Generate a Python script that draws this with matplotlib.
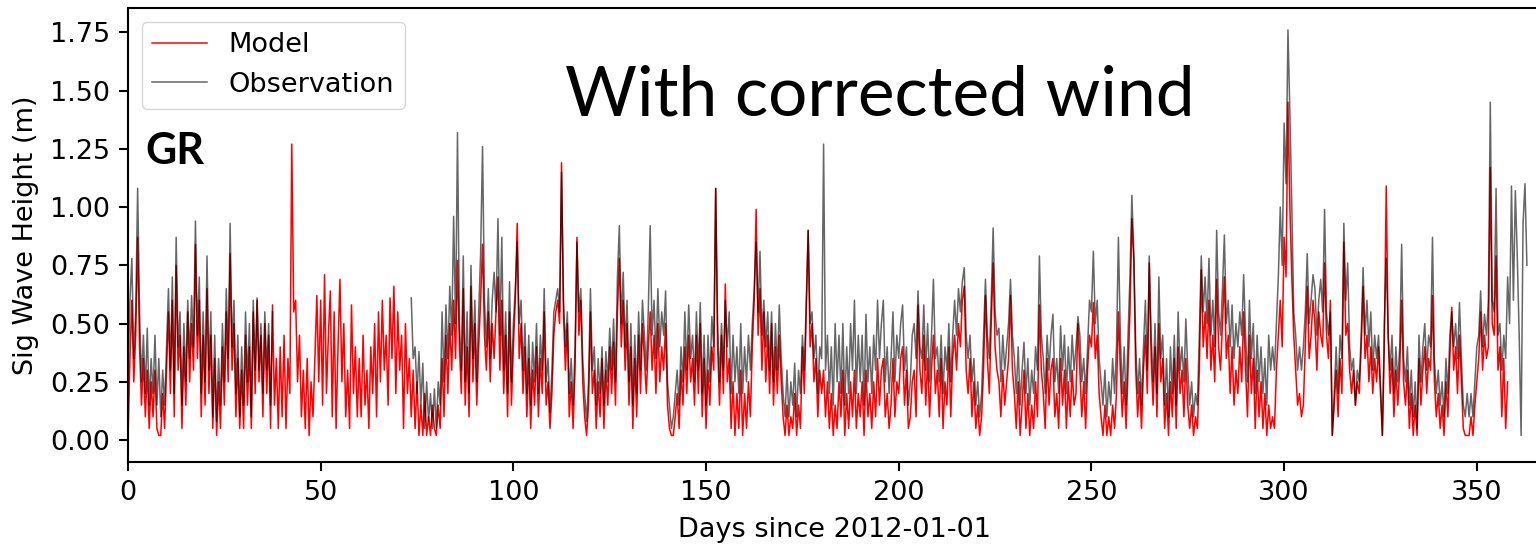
import numpy as np
import matplotlib.pyplot as plt

NA = np.nan

# significant wave height (m), one value every half day from 2012-01-01
model_hs = [
    0.00, 0.35, 0.60, 0.25, 0.45, 0.87, 0.40, 0.15, 0.35, 0.10, 0.30, 0.05, 0.25, 0.10, 0.30, 0.05, 0.02, 0.02, 0.20, 0.05,
    0.30, 0.55, 0.20, 0.60, 0.10, 0.75, 0.30, 0.45, 0.05, 0.40, 0.15, 0.55, 0.25, 0.50, 0.30, 0.84, 0.35, 0.60, 0.10, 0.45,
    0.15, 0.65, 0.20, 0.45, 0.05, 0.35, 0.02, 0.25, 0.05, 0.40, 0.15, 0.55, 0.25, 0.80, 0.30, 0.50, 0.10, 0.35, 0.05, 0.30,
    0.05, 0.45, 0.15, 0.40, 0.05, 0.55, 0.20, 0.60, 0.25, 0.45, 0.10, 0.50, 0.20, 0.45, 0.05, 0.58, 0.15, 0.35, 0.05, 0.40,
    0.10, 0.45, 0.05, 0.35, 0.20, 1.27, 0.55, 0.60, 0.25, 0.45, 0.10, 0.30, 0.05, 0.35, 0.02, 0.25, 0.10, 0.35, 0.62, 0.25,
    0.60, 0.15, 0.71, 0.20, 0.45, 0.64, 0.10, 0.55, 0.05, 0.40, 0.69, 0.25, 0.50, 0.10, 0.30, 0.05, 0.58, 0.20, 0.40, 0.10,
    0.35, 0.10, 0.45, 0.15, 0.30, 0.05, 0.40, 0.20, 0.50, 0.10, 0.55, 0.25, 0.60, 0.30, 0.45, 0.15, 0.61, 0.35, 0.66, 0.20,
    0.55, 0.30, 0.45, 0.05, 0.50, 0.20, 0.35, 0.10, 0.30, 0.05, 0.25, 0.02, 0.15, 0.02, 0.20, 0.02, 0.10, 0.02, 0.15, 0.05,
    0.02, 0.15, 0.05, 0.35, 0.10, 0.45, 0.20, 0.50, 0.30, 0.60, 0.35, 0.77, 0.40, 0.20, 0.65, 0.15, 0.40, 0.10, 0.66, 0.25,
    0.50, 0.15, 0.40, 0.60, 0.84, 0.45, 0.30, 0.55, 0.25, 0.50, 0.35, 0.55, 0.70, 0.30, 0.60, 0.20, 0.45, 0.10, 0.55, 0.15,
    0.40, 0.60, 0.93, 0.35, 0.50, 0.20, 0.40, 0.10, 0.35, 0.05, 0.30, 0.15, 0.40, 0.10, 0.35, 0.20, 0.55, 0.15, 0.25, 0.05,
    0.20, 0.45, 0.55, 0.60, 0.50, 1.19, 0.55, 0.30, 0.50, 0.10, 0.25, 0.05, 0.30, 0.87, 0.45, 0.60, 0.25, 0.10, 0.02, 0.15,
    0.55, 0.20, 0.30, 0.05, 0.25, 0.10, 0.35, 0.05, 0.30, 0.15, 0.40, 0.20, 0.42, 0.15, 0.55, 0.78, 0.40, 0.60, 0.30, 0.50,
    0.15, 0.40, 0.05, 0.35, 0.10, 0.45, 0.20, 0.50, 0.35, 0.20, 0.40, 0.55, 0.30, 0.45, 0.20, 0.50, 0.25, 0.40, 0.30, 0.50,
    0.15, 0.05, 0.02, 0.02, 0.10, 0.20, 0.05, 0.30, 0.15, 0.40, 0.20, 0.45, 0.25, 0.35, 0.15, 0.45, 0.20, 0.50, 0.10, 0.35,
    0.05, 0.30, 0.15, 0.40, 0.30, 1.08, 0.40, 0.15, 0.45, 0.20, 0.67, 0.25, 0.35, 0.05, 0.25, 0.02, 0.20, 0.05, 0.30, 0.02,
    0.20, 0.05, 0.25, 0.10, 0.40, 0.60, 0.99, 0.45, 0.65, 0.30, 0.55, 0.25, 0.45, 0.20, 0.50, 0.15, 0.40, 0.20, 0.45, 0.25,
    0.10, 0.02, 0.15, 0.02, 0.10, 0.05, 0.20, 0.02, 0.15, 0.05, 0.40, 0.20, 0.55, 0.90, 0.40, 0.50, 0.25, 0.35, 0.10, 0.30,
    0.20, 0.30, 0.10, 0.25, 0.05, 0.20, 0.02, 0.15, 0.05, 0.25, 0.10, 0.30, 0.02, 0.20, 0.05, 0.25, 0.10, 0.30, 0.05, 0.20,
    0.10, 0.25, 0.02, 0.30, 0.10, 0.20, 0.05, 0.25, 0.10, 0.35, 0.15, 0.30, 0.35, 0.10, 0.20, 0.05, 0.15, 0.35, 0.10, 0.25,
    0.20, 0.35, 0.40, 0.15, 0.30, 0.05, 0.10, 0.25, 0.30, 0.10, 0.58, 0.30, 0.20, 0.45, 0.15, 0.35, 0.10, 0.30, 0.45, 0.20,
    0.30, 0.10, 0.35, 0.05, 0.25, 0.15, 0.40, 0.10, 0.35, 0.45, 0.30, 0.50, 0.40, 0.60, 0.66, 0.30, 0.20, 0.35, 0.10, 0.25,
    0.05, 0.15, 0.02, 0.10, 0.30, 0.62, 0.35, 0.20, 0.50, 0.76, 0.40, 0.30, 0.25, 0.10, 0.30, 0.15, 0.25, 0.35, 0.62, 0.30,
    0.20, 0.05, 0.25, 0.02, 0.15, 0.30, 0.05, 0.20, 0.02, 0.15, 0.05, 0.25, 0.10, 0.58, 0.30, 0.20, 0.05, 0.35, 0.15, 0.30,
    0.35, 0.10, 0.20, 0.05, 0.35, 0.15, 0.30, 0.05, 0.25, 0.10, 0.30, 0.15, 0.20, 0.50, 0.30, 0.10, 0.25, 0.05, 0.30, 0.45,
    0.40, 0.59, 0.35, 0.45, 0.20, 0.10, 0.02, 0.15, 0.02, 0.10, 0.02, 0.15, 0.05, 0.20, 0.55, 0.30, 0.10, 0.25, 0.05, 0.30,
    0.55, 0.95, 0.77, 0.30, 0.10, 0.25, 0.05, 0.30, 0.45, 0.20, 0.76, 0.35, 0.15, 0.40, 0.10, 0.50, 0.25, 0.35, 0.05, 0.20,
    0.02, 0.25, 0.10, 0.35, 0.05, 0.40, 0.20, 0.30, 0.10, 0.35, 0.15, 0.05, 0.15, 0.02, 0.10, 0.05, 0.30, 0.73, 0.40, 0.55,
    0.35, 0.60, 0.30, 0.45, 0.25, 0.69, 0.40, 0.30, 0.50, 0.70, 0.35, 0.45, 0.20, 0.40, 0.15, 0.30, 0.20, 0.40, 0.25, 0.55,
    0.30, 0.10, 0.45, 0.20, 0.35, 0.05, 0.30, 0.10, 0.25, 0.05, 0.20, 0.02, 0.15, 0.05, 0.10, 0.05, 0.30, 0.45, 0.60, 0.40,
    0.87, 0.70, 1.45, 1.00, 0.70, 0.45, 0.30, 0.15, 0.20, 0.10, 0.15, 0.40, 0.66, 0.35, 0.45, 0.60, 0.50, 0.30, 0.55, 0.45,
    0.40, 0.76, 0.45, 0.35, 0.60, 0.02, 0.15, 0.30, 0.10, 0.35, 0.20, 0.85, 0.45, 0.50, 0.30, 0.20, 0.30, 0.15, 0.25, 0.20,
    0.40, 0.66, 0.35, 0.45, 0.25, 0.40, 0.20, 0.35, 0.25, 0.40, 0.20, 0.02, 0.40, 1.09, 0.45, 0.20, 0.35, 0.10, 0.30, 0.15,
    0.30, 0.60, 0.25, 0.15, 0.30, 0.05, 0.20, 0.02, 0.15, 0.02, 0.35, 0.15, 0.30, 0.40, 0.20, 0.35, 0.30, 0.62, 0.25, 0.10,
    0.20, 0.05, 0.15, 0.02, 0.25, 0.10, 0.35, 0.57, 0.30, 0.40, 0.20, 0.45, 0.25, 0.05, 0.02, 0.02, 0.02, 0.10, 0.02, 0.15,
    0.25, 0.35, 0.55, 0.30, 0.45, 0.35, 0.40, 1.17, 0.50, 0.45, 0.79, 0.30, 0.40, 0.10, 0.35, 0.05, 0.25,
]

obs_hs = [
    0.30, 0.60, 0.78, 0.35, 0.55, 1.08, 0.55, 0.25, 0.45, 0.20, 0.48, 0.15, 0.35, 0.20, 0.45, 0.15, 0.35, 0.10, 0.30, 0.15,
    0.40, 0.65, 0.30, 0.70, 0.20, 0.87, 0.40, 0.55, 0.15, 0.50, 0.25, 0.60, 0.35, 0.62, 0.40, 0.94, 0.45, 0.70, 0.20, 0.55,
    0.25, 0.79, 0.30, 0.55, 0.10, 0.45, 0.08, 0.35, 0.15, 0.50, 0.25, 0.65, 0.35, 0.93, 0.40, 0.60, 0.20, 0.45, 0.10, 0.40,
    0.15, 0.55, 0.25, 0.50, 0.10, 0.60, 0.30, 0.61, 0.30, 0.50, 0.20, 0.55, 0.30, 0.50, 0.15, 0.55, NA, NA, NA, NA,
    NA, NA, NA, NA, NA, NA, NA, NA, NA, NA, NA, NA, NA, NA, NA, NA, NA, NA, NA, NA,
    NA, NA, NA, NA, NA, NA, NA, NA, NA, NA, NA, NA, NA, NA, NA, NA, NA, NA, NA, NA,
    NA, NA, NA, NA, NA, NA, NA, NA, NA, NA, NA, NA, NA, NA, NA, NA, NA, NA, NA, NA,
    NA, NA, NA, NA, NA, NA, NA, 0.61, 0.35, 0.40, 0.20, 0.38, 0.15, 0.33, 0.05, 0.25, 0.08, 0.20, 0.05, 0.22,
    0.05, 0.25, 0.15, 0.55, 0.25, 0.58, 0.35, 0.66, 0.45, 0.96, 0.50, 1.32, 0.50, 0.30, 0.79, 0.25, 0.55, 0.20, 0.75, 0.35,
    0.60, 0.25, 0.55, 0.80, 1.26, 0.60, 0.40, 0.65, 0.35, 0.60, 0.72, 0.55, 0.95, 0.45, 0.87, 0.30, 0.55, 0.20, 0.68, 0.25,
    0.50, 0.65, 0.85, 0.50, 0.60, 0.30, 0.50, 0.20, 0.45, 0.15, 0.42, 0.25, 0.50, 0.20, 0.45, 0.30, 0.65, 0.25, 0.35, 0.12,
    0.30, 0.55, 0.60, 0.65, 0.55, 1.15, 0.60, 0.40, 0.55, 0.20, 0.35, 0.15, 0.40, 0.85, 0.55, 0.65, 0.35, 0.20, 0.08, 0.25,
    0.65, 0.30, 0.40, 0.15, 0.35, 0.20, 0.40, 0.15, 0.38, 0.25, 0.48, 0.30, 0.52, 0.25, 0.70, 0.92, 0.50, 0.72, 0.40, 0.60,
    0.25, 0.50, 0.15, 0.45, 0.20, 0.55, 0.30, 0.60, 0.45, 0.30, 0.55, 0.92, 0.45, 0.60, 0.35, 0.65, 0.40, 0.55, 0.45, 0.64,
    0.25, 0.15, 0.05, 0.10, 0.20, 0.30, 0.15, 0.40, 0.25, 0.55, 0.30, 0.58, 0.35, 0.45, 0.25, 0.55, 0.30, 0.59, 0.20, 0.45,
    0.15, 0.45, 0.25, 0.53, 0.40, 1.08, 0.50, 0.25, 0.50, 0.30, 0.60, 0.40, 0.55, 0.20, 0.45, 0.25, 0.40, 0.20, 0.50, 0.20,
    0.40, 0.25, 0.45, 0.30, 0.50, 0.65, 0.85, 0.55, 0.81, 0.45, 0.60, 0.40, 0.55, 0.30, 0.55, 0.25, 0.50, 0.30, 0.58, 0.35,
    0.20, 0.10, 0.30, 0.10, 0.25, 0.15, 0.33, 0.10, 0.30, 0.20, 0.45, 0.30, 0.60, 0.90, 0.50, 0.55, 0.35, 0.45, 0.20, 0.40,
    0.35, 1.27, 0.30, 0.45, 0.20, 0.40, 0.15, 0.50, 0.25, 0.45, 0.20, 0.50, 0.15, 0.40, 0.20, 0.50, 0.30, 0.60, 0.20, 0.45,
    0.25, 0.45, 0.15, 0.54, 0.25, 0.40, 0.20, 0.45, 0.30, 0.60, 0.35, 0.50, 0.60, 0.25, 0.40, 0.20, 0.35, 0.55, 0.25, 0.45,
    0.35, 0.50, 0.58, 0.30, 0.40, 0.15, 0.25, 0.45, 0.50, 0.35, 0.64, 0.40, 0.35, 0.58, 0.30, 0.50, 0.25, 0.45, 0.69, 0.35,
    0.40, 0.25, 0.45, 0.20, 0.40, 0.30, 0.50, 0.25, 0.45, 0.60, 0.45, 0.65, 0.55, 0.68, 0.74, 0.45, 0.35, 0.45, 0.25, 0.35,
    0.15, 0.25, 0.10, 0.20, 0.45, 0.69, 0.45, 0.35, 0.60, 0.91, 0.55, 0.45, 0.48, 0.25, 0.45, 0.30, 0.40, 0.50, 0.69, 0.45,
    0.35, 0.20, 0.40, 0.15, 0.30, 0.42, 0.20, 0.35, 0.15, 0.30, 0.20, 0.40, 0.30, 0.79, 0.45, 0.35, 0.20, 0.45, 0.30, 0.45,
    0.54, 0.25, 0.35, 0.20, 0.49, 0.30, 0.45, 0.20, 0.40, 0.25, 0.45, 0.30, 0.40, 0.53, 0.45, 0.25, 0.35, 0.20, 0.40, 0.60,
    0.55, 0.81, 0.50, 0.60, 0.35, 0.25, 0.15, 0.30, 0.10, 0.25, 0.15, 0.35, 0.20, 0.40, 0.87, 0.45, 0.20, 0.40, 0.15, 0.45,
    0.70, 1.05, 0.80, 0.40, 0.20, 0.35, 0.15, 0.40, 0.60, 0.30, 0.79, 0.45, 0.25, 0.50, 0.20, 0.70, 0.35, 0.45, 0.15, 0.35,
    0.10, 0.40, 0.20, 0.45, 0.15, 0.55, 0.30, 0.40, 0.25, 0.52, 0.30, 0.15, 0.25, 0.10, 0.20, 0.15, 0.45, 0.79, 0.55, 0.70,
    0.50, 0.78, 0.45, 0.60, 0.40, 0.90, 0.55, 0.45, 0.65, 0.88, 0.50, 0.60, 0.40, 0.58, 0.35, 0.50, 0.40, 0.55, 0.45, 0.71,
    0.45, 0.25, 0.60, 0.35, 0.50, 0.20, 0.45, 0.25, 0.40, 0.20, 0.35, 0.15, 0.45, 0.30, 0.40, 0.30, 0.50, 0.70, 1.00, 0.75,
    1.36, 1.10, 1.76, 1.40, 1.00, 0.55, 0.45, 0.30, 0.40, 0.30, 0.40, 0.55, 0.80, 0.50, 0.60, 0.71, 0.65, 0.45, 0.60, 0.69,
    0.55, 0.99, 0.55, 0.45, 0.55, 0.02, 0.20, 0.40, 0.20, 0.45, 0.35, 0.93, 0.60, 0.76, 0.40, 0.30, 0.35, 0.15, 0.30, 0.25,
    0.45, 0.74, 0.45, 0.60, 0.40, 0.55, 0.30, 0.45, 0.35, 0.45, 0.25, 0.02, 0.50, 0.78, 0.45, 0.30, 0.45, 0.20, 0.40, 0.25,
    0.40, 0.84, 0.35, 0.25, 0.40, 0.15, 0.30, 0.10, 0.25, 0.05, 0.45, 0.25, 0.40, 0.50, 0.30, 0.45, 0.40, 0.87, 0.35, 0.20,
    0.30, 0.15, 0.25, 0.10, 0.35, 0.20, 0.45, 0.55, 0.40, 0.50, 0.35, 0.59, 0.35, 0.15, 0.10, 0.20, 0.10, 0.20, 0.10, 0.25,
    0.40, 0.45, 0.64, 0.40, 0.54, 0.45, 0.60, 1.45, 0.60, 0.55, 1.08, 0.45, 0.50, 0.30, 0.45, 0.35, 0.70, 0.50, 1.09, 0.60,
    1.07, 0.79, 0.45, 0.02, 0.93, 1.10, 0.75,
]

x_ticks = [0, 50, 100, 150, 200, 250, 300, 350]
y_ticks = [0.00, 0.25, 0.50, 0.75, 1.00, 1.25, 1.50, 1.75]

model_days = np.arange(len(model_hs)) * 0.5
obs_days = np.arange(len(obs_hs)) * 0.5

fs = 19.5
fig = plt.figure(figsize=(15.36, 5.48), dpi=100)
ax = fig.add_axes([128 / 1536, 86 / 548, 1412 / 1536, 454 / 548])

ax.plot(model_days, model_hs, color='red', lw=1.1, label='Model')
ax.plot(obs_days, obs_hs, color='black', alpha=0.6, lw=1.1, label='Observation')

ax.set_xlim(0, 366.4)
ax.set_ylim(-0.094, 1.854)
ax.set_xticks(x_ticks)
ax.set_yticks(y_ticks)
ax.set_yticklabels([f"{v:.2f}" for v in y_ticks])
ax.tick_params(labelsize=fs, length=6.8, width=1.5, pad=6)
for s in ax.spines.values():
    s.set_linewidth(1.5)

ax.set_xlabel("Days since 2012-01-01", fontsize=fs, labelpad=8)
ax.set_ylabel("Sig Wave Height (m)", fontsize=fs, labelpad=8)
ax.legend(loc='upper left', fontsize=fs, framealpha=0.8, edgecolor='0.8')

fig.text(880 / 1536, 1 - 115 / 548, "With corrected wind", fontsize=50,
         family=['Lato', 'DejaVu Sans'], ha='center', va='baseline')
fig.text(145 / 1536, 1 - 164 / 548, "GR", fontsize=31, fontweight='bold',
         family=['Lato', 'DejaVu Sans'], ha='left', va='baseline')

fig.savefig('out.png', dpi=100)
